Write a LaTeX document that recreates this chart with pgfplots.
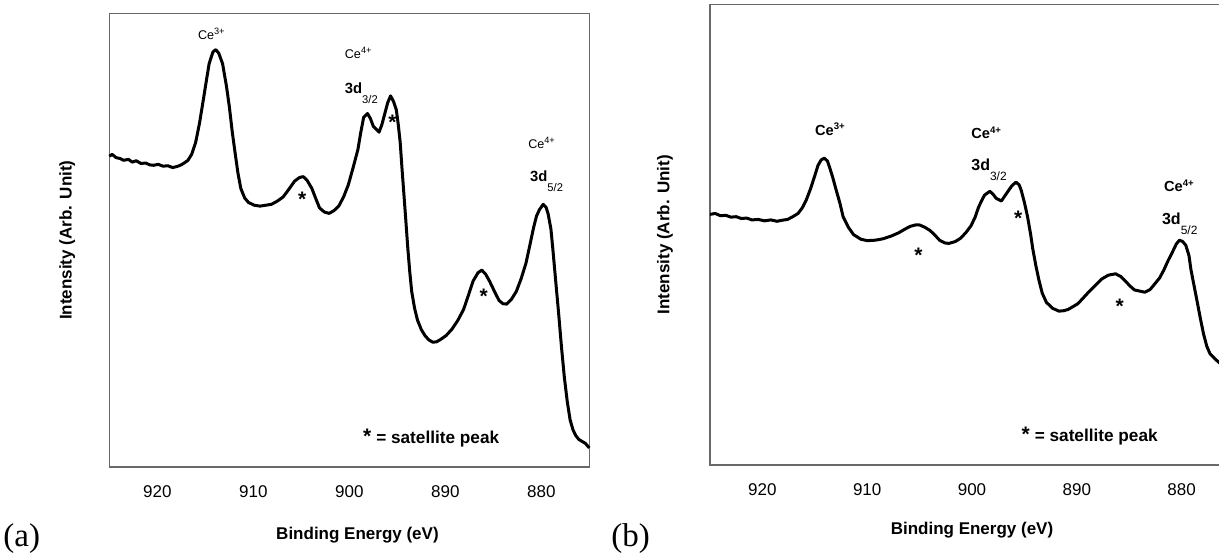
\documentclass[border=0pt]{standalone}
\usepackage{fontspec}
\setmainfont{Liberation Sans}
\newfontfamily\panelfont{Liberation Serif}
\usepackage{pgfplots}
\usepackage{pgfplotstable}
\pgfplotsset{compat=1.18}

% Ce 3d XPS spectra, intensity normalised to the frame height (0--100)
\pgfplotstableread{
x y
925.0 68.5
924.7 68.9
924.3 68.2
923.9 68.0
923.5 67.6
923.0 67.8
922.6 67.2
922.2 67.5
921.7 66.9
921.2 67.0
920.8 66.6
920.4 66.5
919.9 66.7
919.4 66.3
918.9 66.4
918.4 66.0
918.0 66.2
917.6 66.5
917.2 67.0
916.8 67.6
916.4 69.0
916.0 71.6
915.6 75.8
915.2 81.0
914.9 85.0
914.6 88.9
914.2 91.5
913.9 92.0
913.6 91.2
913.2 88.9
912.8 84.0
912.5 79.5
912.2 74.0
911.9 69.3
911.6 64.8
911.3 61.4
910.9 59.3
910.5 58.3
909.9 57.7
909.3 57.5
908.7 57.7
908.1 57.9
907.5 58.6
906.9 59.5
906.3 61.2
905.7 63.0
905.2 63.8
904.8 64.0
904.4 63.2
903.9 61.4
903.5 59.2
903.1 57.1
902.6 56.2
902.1 55.9
901.6 56.5
901.1 57.5
900.6 59.5
900.1 62.2
899.6 66.0
899.1 70.0
898.8 73.8
898.5 77.1
898.1 77.9
897.8 76.8
897.5 75.1
896.9 73.8
896.6 75.5
896.3 77.9
896.0 80.3
895.7 81.8
895.4 80.6
895.1 78.7
894.9 75.5
894.7 71.6
894.5 65.5
894.3 59.8
894.1 54.0
893.9 48.1
893.7 43.0
893.5 38.7
893.2 35.0
892.9 32.4
892.5 30.3
892.1 28.9
891.7 28.0
891.3 27.5
890.9 27.6
890.5 28.1
889.9 29.0
889.3 30.4
888.7 32.3
888.1 34.7
887.6 37.8
887.1 41.0
886.6 42.8
886.2 43.4
885.8 42.5
885.4 41.0
884.9 38.8
884.4 36.7
884.0 36.0
883.6 35.9
883.1 37.0
882.6 38.7
882.1 41.5
881.6 44.9
881.2 48.8
880.8 52.8
880.5 55.3
880.2 56.7
879.8 57.9
879.5 57.2
879.3 55.9
879.0 52.5
878.8 48.1
878.5 41.0
878.2 34.0
877.9 26.5
877.6 19.8
877.3 14.5
877.0 10.4
876.7 8.2
876.4 6.9
876.1 6.1
875.8 5.7
875.4 5.2
875.0 4.2
}\spectrumA

\pgfplotstableread{
x y
925.0 54.4
924.5 54.6
924.0 54.1
923.5 54.2
923.0 53.8
922.5 53.9
922.0 53.5
921.5 53.6
921.0 53.2
920.4 53.3
919.8 53.0
919.2 53.2
918.6 52.9
918.2 53.1
917.6 53.3
917.1 53.9
916.6 54.6
916.2 55.8
915.8 57.6
915.4 60.0
915.0 62.8
914.7 65.0
914.4 66.2
914.1 66.6
913.8 66.0
913.6 64.7
913.3 62.5
913.0 60.0
912.6 56.8
912.3 53.9
911.8 51.6
911.3 50.0
910.6 49.0
910.0 48.7
909.2 48.8
908.5 49.1
907.7 49.7
907.0 50.4
906.4 51.2
905.9 51.8
905.4 52.1
905.0 52.1
904.5 51.6
904.0 50.9
903.5 49.8
903.1 48.8
902.6 48.2
902.2 48.1
901.6 48.5
901.1 49.2
900.6 50.4
900.1 51.9
899.7 53.8
899.4 55.8
899.1 57.3
898.8 58.6
898.3 59.4
898.0 58.8
897.7 57.9
897.2 57.3
896.9 58.3
896.6 59.3
896.2 60.6
895.8 61.4
895.5 60.8
895.3 59.6
895.0 57.0
894.7 53.9
894.4 50.0
894.2 46.9
893.9 43.2
893.6 40.0
893.3 37.3
892.9 35.3
892.3 34.0
891.7 33.4
891.2 33.5
890.8 33.8
889.9 35.0
888.8 37.7
887.6 40.4
887.0 41.2
886.3 41.5
885.8 40.9
885.4 40.0
884.9 38.8
884.5 38.0
883.5 37.5
883.0 38.1
882.6 39.2
882.1 40.6
881.7 42.3
881.3 44.3
880.9 46.1
880.5 48.0
880.2 48.8
879.9 48.5
879.6 47.7
879.3 45.5
879.1 42.3
878.8 38.8
878.5 35.3
878.2 31.7
877.9 28.4
877.6 25.8
877.3 24.2
876.8 23.0
876.2 21.8
875.6 20.9
875.0 20.2
}\spectrumB

\definecolor{framegray}{RGB}{105,105,105}

\pgfplotsset{
  xpsaxis/.style={
    scale only axis,
    anchor=south west,
    x dir=reverse,
    xmin=875, xmax=925,
    ymin=0, ymax=100,
    xtick={880,890,900,910,920},
    ytick=\empty,
    major tick length=0pt,
    axis line style={draw=framegray, line width=0.6pt},
    /pgf/number format/assume math mode=true,
    /pgf/number format/1000 sep={},
    xticklabel style={anchor=north, inner sep=0pt, yshift=-9pt,
      font=\fontsize{8.5}{10}\selectfont},
    xlabel={Binding Energy (eV)},
    ylabel={Intensity (Arb. Unit)},
    label style={font=\bfseries\fontsize{8.5}{10}\selectfont},
    clip=false,
  },
  spec/.style={black, line width=1.5pt, line join=round, no markers},
}

\newcommand{\satmark}{\bfseries\fontsize{10.5}{12}\selectfont *}

\begin{document}
\begin{tikzpicture}
\useasboundingbox (0,0) rectangle (609.5pt,278.5pt);
\clip (0,0) rectangle (609.5pt,278.5pt);

% ---------- panel (a)
\begin{axis}[xpsaxis,
  at={(54.65pt,45pt)}, width=240pt, height=226.85pt,
  xlabel style={at={(axis description cs:0.517,-0.150)}, anchor=center},
  ylabel style={at={(axis description cs:-0.0875,0.5)}, anchor=center},
]
\addplot[spec] table[x=x,y=y] {\spectrumA};
\node[anchor=base west, inner sep=0pt, font=\fontsize{6.3}{7}\selectfont] at (axis cs:915.8,94.2)
  {Ce\raisebox{2.6pt}{\fontsize{4.6}{5}\selectfont 3+}};
\node[anchor=base west, inner sep=0pt, font=\fontsize{6.3}{7}\selectfont] at (axis cs:900.5,90.1)
  {Ce\raisebox{2.6pt}{\fontsize{4.6}{5}\selectfont 4+}};
\node[anchor=base west, inner sep=0pt, font=\bfseries\fontsize{7.4}{8}\selectfont] at (axis cs:900.5,82.4)
  {3d\raisebox{-5pt}{\mdseries\fontsize{5.6}{6}\selectfont 3/2}};
\node[anchor=base west, inner sep=0pt, font=\fontsize{6.3}{7}\selectfont] at (axis cs:881.4,70.2)
  {Ce\raisebox{2.6pt}{\fontsize{4.6}{5}\selectfont 4+}};
\node[anchor=base west, inner sep=0pt, font=\bfseries\fontsize{7.4}{8}\selectfont] at (axis cs:881.2,62.9)
  {3d\raisebox{-5pt}{\mdseries\fontsize{5.6}{6}\selectfont 5/2}};
\node[inner sep=0pt, yshift=-2.2pt] at (axis cs:895.5,77.0) {\satmark};
\node[inner sep=0pt, yshift=-2.2pt] at (axis cs:904.9,60.0) {\satmark};
\node[inner sep=0pt, yshift=-2.2pt] at (axis cs:886.0,38.7) {\satmark};
\node[anchor=base west, inner sep=0pt, font=\bfseries\fontsize{8.6}{10}\selectfont]
  at (axis cs:898.6,5.2) {{\fontsize{10.5}{12}\selectfont *}\hspace{2.5pt}= satellite peak};
\end{axis}

% ---------- panel (b)
\begin{axis}[xpsaxis,
  at={(355pt,46pt)}, width=262pt, height=230.35pt,
  xlabel style={at={(axis description cs:0.5,-0.142)}, anchor=center},
  ylabel style={at={(axis description cs:-0.086,0.5)}, anchor=center},
]
\addplot[spec] table[x=x,y=y] {\spectrumB};
\node[anchor=base west, inner sep=0pt, font=\bfseries\fontsize{7.3}{8}\selectfont] at (axis cs:915.0,71.6)
  {Ce\raisebox{2.8pt}{\fontsize{4.8}{5}\selectfont 3+}};
\node[anchor=base west, inner sep=0pt, font=\bfseries\fontsize{7.3}{8}\selectfont] at (axis cs:900.1,70.8)
  {Ce\raisebox{2.8pt}{\fontsize{4.8}{5}\selectfont 4+}};
\node[anchor=base west, inner sep=0pt, font=\bfseries\fontsize{8}{9}\selectfont] at (axis cs:900.1,64.0)
  {3d\raisebox{-5pt}{\mdseries\fontsize{6}{7}\selectfont 3/2}};
\node[anchor=base west, inner sep=0pt, font=\bfseries\fontsize{7.3}{8}\selectfont] at (axis cs:881.7,59.3)
  {Ce\raisebox{2.8pt}{\fontsize{4.8}{5}\selectfont 4+}};
\node[anchor=base west, inner sep=0pt, font=\bfseries\fontsize{8}{9}\selectfont] at (axis cs:881.9,52.3)
  {3d\raisebox{-5pt}{\mdseries\fontsize{6}{7}\selectfont 5/2}};
\node[inner sep=0pt, yshift=-2.2pt] at (axis cs:895.6,54.6) {\satmark};
\node[inner sep=0pt, yshift=-2.2pt] at (axis cs:905.1,46.5) {\satmark};
\node[inner sep=0pt, yshift=-2.2pt] at (axis cs:885.9,35.3) {\satmark};
\node[anchor=base west, inner sep=0pt, font=\bfseries\fontsize{8.6}{10}\selectfont]
  at (axis cs:895.3,5.2) {{\fontsize{10.5}{12}\selectfont *}\hspace{2.5pt}= satellite peak};
\end{axis}

% panel letters
\node[anchor=base west, inner sep=0pt, font=\panelfont\fontsize{16.5}{18}\selectfont]
  at (1.5pt,5.5pt) {(a)};
\node[anchor=base west, inner sep=0pt, font=\panelfont\fontsize{16.5}{18}\selectfont]
  at (305.5pt,5.5pt) {(b)};
\end{tikzpicture}
\end{document}
